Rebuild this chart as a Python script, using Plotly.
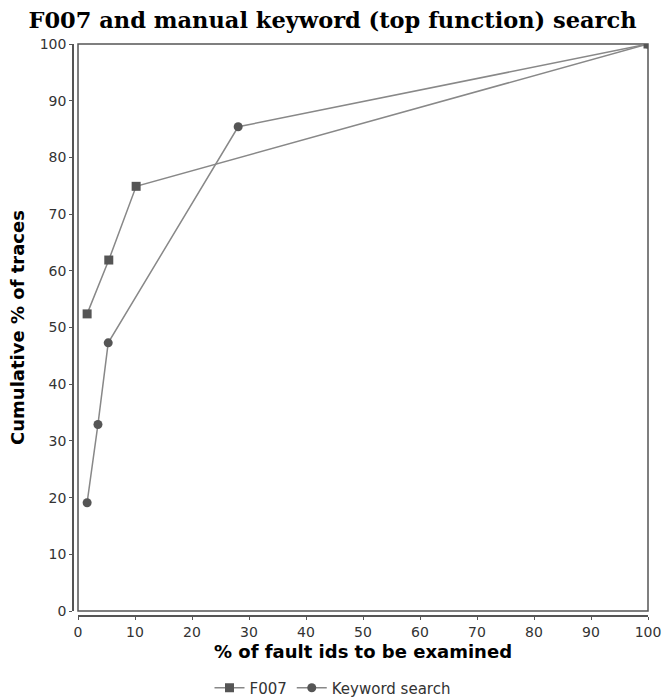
import plotly.graph_objects as go

f007_x = [1.6, 5.4, 10.2, 100]
f007_y = [52.4, 61.9, 74.9, 100]
kw_x = [1.6, 3.5, 5.3, 28.1, 100]
kw_y = [19.1, 32.9, 47.3, 85.4, 100]
series_names = ["F007", "Keyword search"]
tick_vals = list(range(0, 101, 10))

W, H = 665, 698
ml, mr, mt, mb = 73, 17, 44, 82
off = 5
pw = W - ml - mr
ph = H - mt - mb

fig = go.Figure()
fig.add_trace(go.Scatter(x=f007_x, y=f007_y, name=series_names[0], mode="lines+markers",
                         line=dict(color="#888888", width=1.5),
                         marker=dict(symbol="square", size=9, color="#555555")))
fig.add_trace(go.Scatter(x=kw_x, y=kw_y, name=series_names[1], mode="lines+markers",
                         line=dict(color="#888888", width=1.5),
                         marker=dict(symbol="circle", size=9, color="#555555")))

axfont = dict(family="DejaVu Sans", size=14, color="#333333")
titlefont = dict(family="DejaVu Sans", size=18, color="#000000", weight="bold")
fig.update_layout(
    width=W, height=H,
    margin=dict(l=ml, r=mr, t=mt, b=mb, autoexpand=False),
    paper_bgcolor="white", plot_bgcolor="white",
    title=dict(text="F007 and manual keyword (top function) search",
               font=dict(family="DejaVu Serif", size=22.5, color="#000000", weight="bold"),
               x=0.5, xref="container", xanchor="center", y=1 - 20 / H, yanchor="middle"),
    xaxis=dict(domain=[off / pw, 1], range=[0, 100], anchor="free", position=0,
               tickvals=tick_vals, ticks="outside", ticklen=3, tickcolor="#555555",
               showline=True, linecolor="#555555", linewidth=1.5, showgrid=False,
               zeroline=False, tickfont=axfont, automargin=False,
               title=dict(text="% of fault ids to be examined", font=titlefont, standoff=6)),
    yaxis=dict(domain=[off / ph, 1], range=[0, 100], anchor="free", position=0,
               tickvals=tick_vals, ticks="outside", ticklen=3, tickcolor="#555555",
               showline=True, linecolor="#555555", linewidth=1.5, showgrid=False,
               zeroline=False, tickfont=axfont, automargin=False,
               title=dict(text="Cumulative % of traces", font=titlefont, standoff=9)),
    legend=dict(orientation="h", xref="container", yref="container", x=0.5, xanchor="center",
                y=10 / H, yanchor="middle", font=dict(family="DejaVu Sans", size=15, color="#333333"),
                itemwidth=30, tracegroupgap=0),
    shapes=[dict(type="rect", xref="x domain", yref="y domain", x0=0, x1=1, y0=0, y1=1,
                 line=dict(color="#555555", width=1.5), layer="below")],
)
fig.write_html("out.html", config={"displayModeBar": False},
               post_script="document.body.style.margin='0';document.body.style.overflow='hidden';")
